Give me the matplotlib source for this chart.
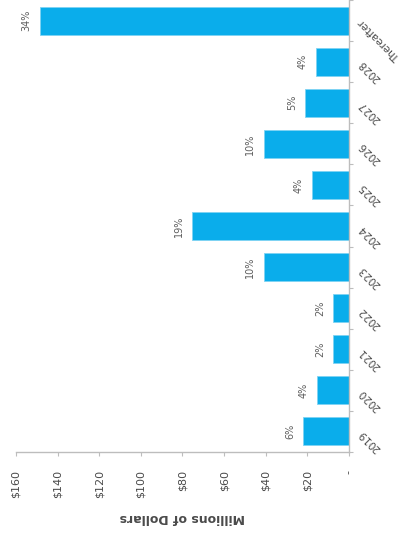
import numpy as np
import matplotlib
matplotlib.use('Agg')
from matplotlib import pyplot as plt

# maturities in millions of dollars, by year
years = ['2019', '2020', '2021', '2022', '2023', '2024', '2025',
         '2026', '2027', '2028', 'Thereafter']
amounts = [22, 15.5, 7.5, 7.5, 41, 75.5, 18, 41, 21, 16, 148.5]
shares = ['6%', '4%', '2%', '2%', '10%', '19%', '4%', '10%', '5%', '4%', '34%']
dollar_ticks = [0, 20, 40, 60, 80, 100, 120, 140, 160]
dollar_labels = ['-', '$20', '$40', '$60', '$80', '$100', '$120', '$140', '$160']

BLUE = '#0AADEB'
TEXT = '#4a4a4a'
AXIS = '#bdbdbd'

plt.rcParams['font.family'] = ['DejaVu Sans']

fig = plt.figure(figsize=(4.10, 5.41), dpi=100)
ax = fig.add_axes([16 / 410, 1 - 452 / 541, (349 - 16) / 410, 452 / 541])

pos = np.arange(len(years))
ax.barh(pos, amounts, height=0.68, color=BLUE, edgecolor='#7fd3f3', linewidth=0.6)

# percent labels sit just past the end of each bar, turned on their side
for i, (v, s) in enumerate(zip(amounts, shares)):
    ax.annotate(s, xy=(v, i), xytext=(-6, 0), textcoords='offset points',
                rotation=90, ha='right', va='center', fontsize=7, color='#5e5e5e')

ax.set_xlim(160, 0)
ax.set_ylim(-0.5, len(years) - 0.5)

ax.set_xticks(dollar_ticks)
ax.set_xticklabels(dollar_labels, rotation=90, ha='center', va='top',
                   fontsize=8, color=TEXT)
ax.tick_params(axis='x', direction='out', length=3, width=0.8, color=AXIS, pad=10)

ax.yaxis.tick_right()
ax.set_yticks(pos)
ax.set_yticklabels(years, rotation=135, ha='right', va='center',
                   rotation_mode='anchor', fontsize=7.5, color=TEXT)
ax.set_yticks(np.arange(-0.5, len(years), 1), minor=True)
ax.tick_params(axis='y', which='major', length=0, pad=8)
ax.tick_params(axis='y', which='minor', direction='out', length=3, width=0.8, color=AXIS)

ax.set_xlabel('Millions of Dollars', rotation=180, fontsize=9,
              fontweight='bold', color=TEXT, labelpad=9)

for side in ['top', 'left']:
    ax.spines[side].set_visible(False)
for side in ['bottom', 'right']:
    ax.spines[side].set_color(AXIS)
    ax.spines[side].set_linewidth(1.0)

fig.savefig('out.png', dpi=100, facecolor='white')
